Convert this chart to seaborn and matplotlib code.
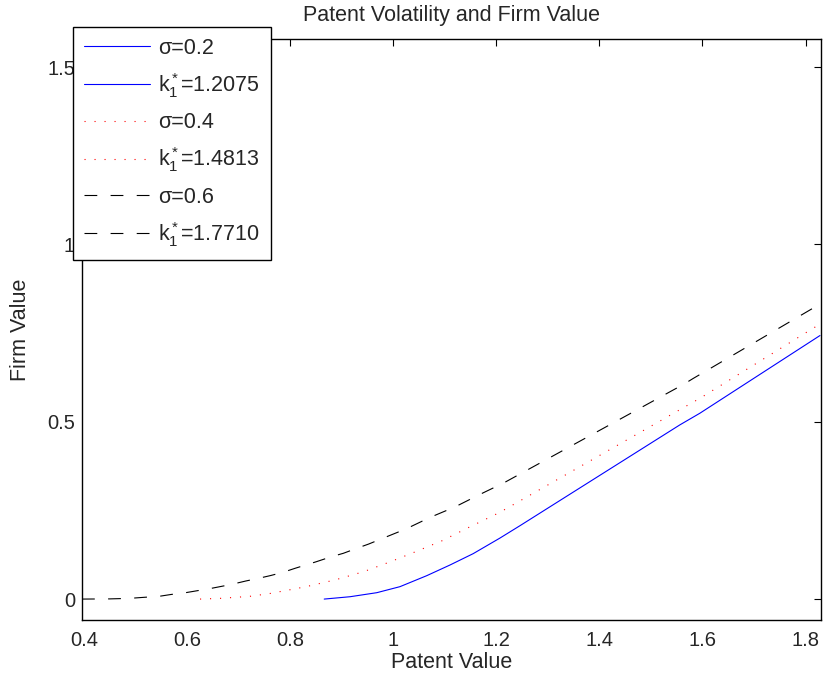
import matplotlib
matplotlib.use("Agg")
import matplotlib.pyplot as plt
import seaborn as sns
import pandas as pd
from matplotlib.lines import Line2D

# ---- data ----
x_s02 = [0.866, 0.916, 0.968, 1.013, 1.065, 1.110, 1.155, 1.207, 1.246, 1.556, 1.595, 1.828]
y_s02 = [0.000, 0.0066, 0.018, 0.035, 0.066, 0.096, 0.128, 0.172, 0.207, 0.491, 0.524, 0.743]

x_s04 = [0.625, 0.664, 0.721, 0.758, 0.795, 0.831, 0.887, 0.942, 0.994, 1.039, 1.094,
         1.145, 1.199, 1.217, 1.561, 1.595, 1.814, 1.828]
y_s04 = [0.000, 0.002, 0.0076, 0.015, 0.025, 0.035, 0.054, 0.077, 0.105, 0.131, 0.164,
         0.201, 0.239, 0.253, 0.538, 0.566, 0.763, 0.775]

x_s06 = [0.396, 0.45, 0.488, 0.517, 0.545, 0.569, 0.597, 0.646, 0.685, 0.714, 0.737, 0.761,
         0.785, 0.810, 0.850, 0.879, 0.903, 0.929, 0.952, 0.974, 1.025, 1.071, 1.120,
         1.168, 1.215, 1.564, 1.582, 1.812, 1.828]
y_s06 = [0.000, 0.0005, 0.002, 0.005, 0.0076, 0.013, 0.018, 0.030, 0.041, 0.051, 0.058, 0.066,
         0.075, 0.087, 0.105, 0.119, 0.129, 0.143, 0.155, 0.168, 0.198, 0.230, 0.260,
         0.295, 0.328, 0.606, 0.622, 0.818, 0.832]

legend_labels = ["σ=0.2", "k$_1^*$=1.2075", "σ=0.4", "k$_1^*$=1.4813",
                 "σ=0.6", "k$_1^*$=1.7710"]
x_ticks = [0.4, 0.6, 0.8, 1.0, 1.2, 1.4, 1.6, 1.8]
x_tick_labels = ["0.4", "0.6", "0.8", "1", "1.2", "1.4", "1.6", "1.8"]
y_ticks = [0, 0.5, 1, 1.5]
y_tick_labels = ["0", "0.5", "1", "1.5"]

title = "Patent Volatility and Firm Value"
xlabel = "Patent Value"
ylabel = "Firm Value"

# ---- style ----
sns.set_style("white")
plt.rcParams["font.family"] = ["Liberation Sans", "DejaVu Sans"]
plt.rcParams["mathtext.fontset"] = "custom"
plt.rcParams["mathtext.rm"] = "Liberation Sans"
plt.rcParams["mathtext.it"] = "Liberation Sans"
plt.rcParams["mathtext.default"] = "regular"

FS = 15.5
FS_TICK = 14.5

fig = plt.figure(figsize=(8.24, 6.84), dpi=100)
ax = fig.add_axes([82 / 824, (684 - 620) / 684, (820.5 - 82) / 824, (620 - 39) / 684])

df1 = pd.DataFrame({"x": x_s02, "y": y_s02})
df2 = pd.DataFrame({"x": x_s04, "y": y_s04})
df3 = pd.DataFrame({"x": x_s06, "y": y_s06})

lw = 0.8
sns.lineplot(data=df1, x="x", y="y", ax=ax, color=(0, 0, 1), lw=lw, estimator=None)
sns.lineplot(data=df2, x="x", y="y", ax=ax, color=(1, 0, 0), lw=lw, estimator=None,
             linestyle=(0, (1, 8)))
sns.lineplot(data=df3, x="x", y="y", ax=ax, color="black", lw=lw, estimator=None,
             linestyle=(0, (11.5, 12)))

ax.set_xlim(0.396, 1.829)
ax.set_ylim(-0.059, 1.579)
ax.set_xticks(x_ticks)
ax.set_xticklabels(x_tick_labels)
ax.set_yticks(y_ticks)
ax.set_yticklabels(y_tick_labels)
ax.tick_params(direction="in", length=5, width=0.8, top=True, right=True,
               labelsize=FS_TICK, color="black")
ax.tick_params(axis="x", pad=8)
ax.tick_params(axis="y", pad=5)
for s in ax.spines.values():
    s.set_visible(True)
    s.set_color("black")
    s.set_linewidth(1.0)

ax.set_title(title, fontsize=FS, pad=13)
ax.set_xlabel(xlabel, fontsize=FS, labelpad=1)
ax.set_ylabel(ylabel, fontsize=FS, labelpad=12)

h1 = Line2D([], [], color=(0, 0, 1), lw=lw)
h2 = Line2D([], [], color=(1, 0, 0), lw=lw, linestyle=(0, (1, 8)))
h3 = Line2D([], [], color="black", lw=lw, linestyle=(0, (11.5, 12)))
handles = [h1, h1, h2, h2, h3, h3]

fs_px = FS * 100 / 72
leg = ax.legend(handles, legend_labels, loc="upper left",
                bbox_to_anchor=(73 / 824, 1 - 27 / 684), bbox_transform=fig.transFigure,
                borderaxespad=0, fontsize=FS, handlelength=66 / fs_px,
                handletextpad=8 / fs_px, borderpad=0.5, labelspacing=0.57,
                frameon=True, fancybox=False, shadow=False)
leg.get_frame().set_edgecolor("black")
leg.get_frame().set_linewidth(1.0)
leg.get_frame().set_alpha(1)

fig.savefig("out.png", dpi=100)
